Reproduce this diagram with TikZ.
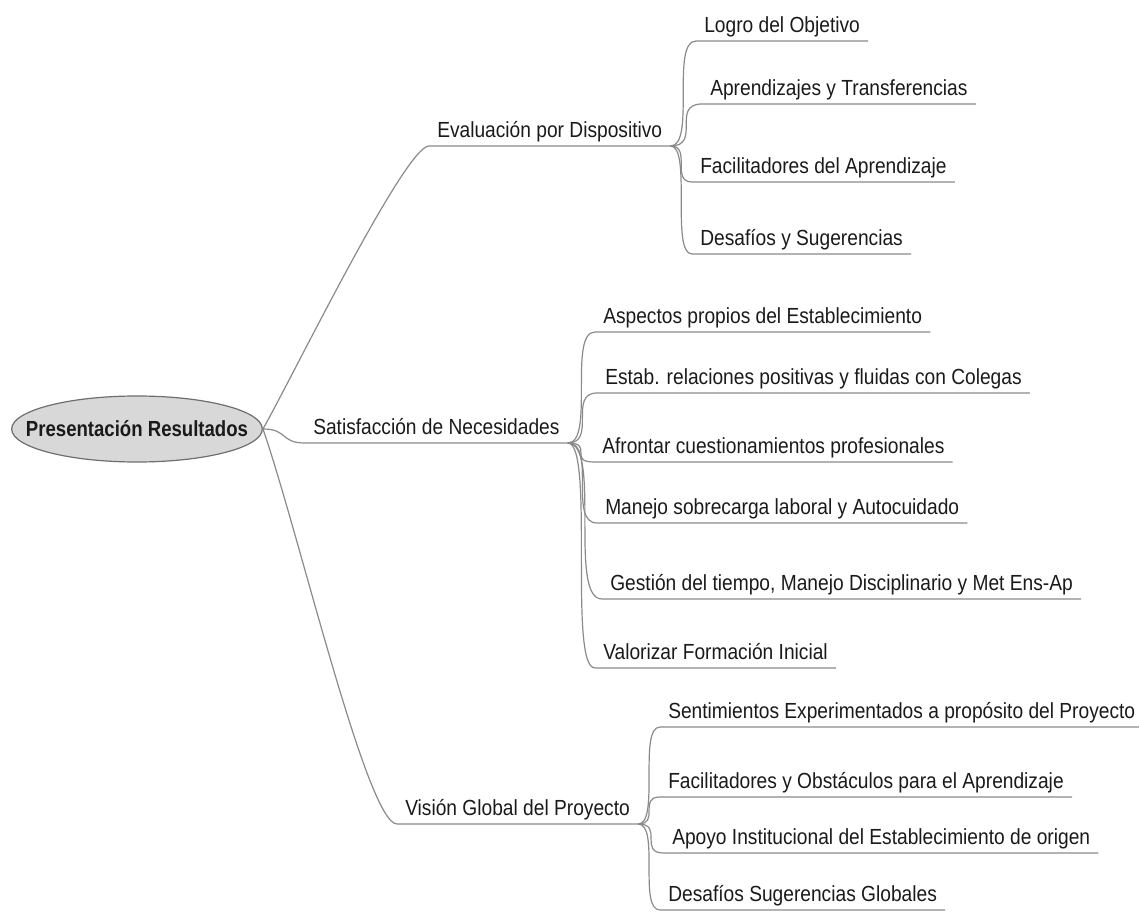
\documentclass[tikz,border=0pt]{standalone}
\usepackage{fontspec}
\setmainfont{Liberation Sans}[FakeStretch=0.877]
\newfontfamily\rootfont{Liberation Sans}[FakeStretch=0.85]
\usetikzlibrary{shapes.geometric}

\definecolor{linegray}{HTML}{8A8A8A}
\definecolor{rootfill}{HTML}{D8D8D8}
\definecolor{rootline}{HTML}{6E6E6E}
\definecolor{textgray}{HTML}{1A1A1A}

\tikzset{
  topic/.style={anchor=south west, inner xsep=6pt, inner ysep=6pt, text depth=0pt,
    text=textgray, font=\fontsize{16.4pt}{18pt}\selectfont},
  edge/.style={draw=linegray, line width=0.9pt},
  brace/.style={to path={.. controls (\tikztotarget |- \tikztostart) and (\tikztostart |- \tikztotarget) .. (\tikztotarget)}}
}

\begin{document}
\begin{tikzpicture}[x=0.75pt, y=-0.75pt]
    \useasboundingbox (0,0) rectangle (1139,913);

    % Central topic
    \node[ellipse, draw=rootline, fill=rootfill, line width=0.9pt, minimum width=188pt,
      minimum height=49.5pt, inner sep=0pt, text=textgray,
      font=\rootfont\bfseries\fontsize{16.4pt}{18pt}\selectfont] (root) at (137,429)
      {\makebox[0pt]{Presentación Resultados}};

    % Main branches
    \node[topic] (eval) at (429,146) {Evaluación por Dispositivo};
    \node[topic] (satisf) at (305,443) {Satisfacción de Necesidades};
    \node[topic] (vision) at (397,824) {Visión Global del Proyecto};

    % Evaluacion por Dispositivo
    \node[topic] (logro) at (696,41) {Logro del Objetivo};
    \node[topic] (aprend) at (702,104) {Aprendizajes y Transferencias};
    \node[topic] (facil) at (692,182) {Facilitadores del Aprendizaje};
    \node[topic] (desaf) at (692,254) {Desafíos y Sugerencias};

    % Satisfaccion de Necesidades
    \node[topic] (aspectos) at (595,332) {Aspectos propios del Establecimiento};
    \node[topic] (estab) at (597,393) {Estab. relaciones positivas y fluidas con Colegas};
    \node[topic] (afrontar) at (594,462) {Afrontar cuestionamientos profesionales};
    \node[topic] (manejo) at (597,523) {Manejo sobrecarga laboral y Autocuidado};
    \node[topic] (gestion) at (602,599) {Gestión del tiempo, Manejo Disciplinario y Met Ens-Ap};
    \node[topic] (valorizar) at (595,668) {Valorizar Formación Inicial};

    % Vision Global del Proyecto
    \node[topic] (sentim) at (660,727) {Sentimientos Experimentados a propósito del Proyecto};
    \node[topic] (facobs) at (660,797) {Facilitadores y Obstáculos para el Aprendizaje};
    \node[topic] (apoyo) at (664,853) {Apoyo Institucional del Establecimiento de origen};
    \node[topic] (desglob) at (660,910) {Desafíos Sugerencias Globales};

    % Connectors from the root
    \draw[edge] (root.east) .. controls +(28,-49) and +(-24,0) .. (eval.south west) -- (eval.south east);
    \draw[edge] (root.east) .. controls +(25,0) and +(-25,0) .. (satisf.south west) -- (satisf.south east);
    \draw[edge] (root.east) .. controls +(35,100) and +(-30,0) .. (vision.south west) -- (vision.south east);

    % Connectors to the sub-topics
    \foreach \c in {logro,aprend,facil,desaf}
      \draw[edge] (eval.south east) to[brace] (\c.south west) -- (\c.south east);
    \foreach \c in {aspectos,estab,afrontar,manejo,gestion,valorizar}
      \draw[edge] (satisf.south east) to[brace] (\c.south west) -- (\c.south east);
    \foreach \c in {sentim,facobs,apoyo,desglob}
      \draw[edge] (vision.south east) to[brace] (\c.south west) -- (\c.south east);
\end{tikzpicture}
\end{document}
